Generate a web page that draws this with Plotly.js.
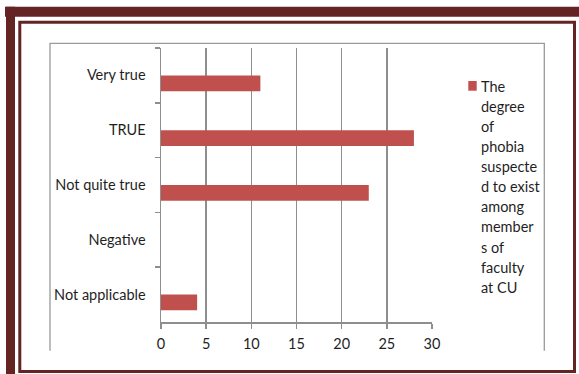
<!DOCTYPE html>
<html>
<head>
<meta charset="utf-8">
<script src="https://cdn.plot.ly/plotly-3.0.1.min.js"></script>
<style>
  html, body { margin: 0; padding: 0; background: #ffffff; }
  #chart { width: 579px; height: 374px; }
</style>
</head>
<body>
<div id="chart"></div>
<script>
// Responses, listed top to bottom as they appear on the axis
const categories = ["Very true", "TRUE", "Not quite true", "Negative", "Not applicable"];
const counts = [11, 28, 23, 0, 4];
const xTicks = [0, 5, 10, 15, 20, 25, 30];

const seriesName = "The degree of phobia suspected to exist among members of faculty at CU";
// the series name as it wraps in the narrow key box
const keyLines = ["The", "degree", "of", "phobia", "suspecte", "d to exist",
                  "among", "member", "s of", "faculty", "at CU"];

const W = 579, H = 374;
const M = { l: 161, r: 147, t: 48, b: 52 };
const plotW = W - M.l - M.r, plotH = H - M.t - M.b;
// pixel position on the page -> paper fraction
const px = x => (x - M.l) / plotW;
const py = y => (H - M.b - y) / plotH;

const maroon = "#632423";
const barColor = "#C0504D";
const gridGray = "#8e8e8e";
const textColor = "#1f1f1f";
const FONT = "Lato, 'Open Sans', sans-serif";

const trace = {
  type: "bar",
  orientation: "h",
  name: seriesName,
  x: counts,
  y: categories,
  width: 0.287,
  offset: 0,
  marker: { color: barColor, line: { width: 0 } },
  hoverinfo: "x+y"
};

const shapes = [
  // heavy page border, top and left
  { type: "rect", xref: "paper", yref: "paper", layer: "above",
    x0: px(5), x1: px(W + 2), y0: py(16.7), y1: py(6.7),
    fillcolor: maroon, line: { width: 0 } },
  { type: "rect", xref: "paper", yref: "paper", layer: "above",
    x0: px(6), x1: px(15), y0: py(H + 2), y1: py(6.7),
    fillcolor: maroon, line: { width: 0 } },
  // thin inner border
  { type: "rect", xref: "paper", yref: "paper", layer: "above",
    x0: px(19.8), x1: px(574.5), y0: py(371.5), y1: py(22.3),
    line: { color: maroon, width: 3 }, fillcolor: "rgba(0,0,0,0)" },
  // chart area outline (open at the bottom)
  { type: "path", xref: "paper", yref: "paper", layer: "above",
    path: `M${px(50)},${py(350.7)} L${px(50)},${py(43.3)} L${px(544.3)},${py(43.3)} L${px(544.3)},${py(350.7)}`,
    line: { color: "#9a9a9a", width: 1.3 } },
  // key swatch
  { type: "rect", xref: "paper", yref: "paper", layer: "above",
    x0: px(468.3), x1: px(476.7), y0: py(90.7), y1: py(81),
    fillcolor: barColor, line: { width: 0 } }
];

const annotations = keyLines.map((t, i) => ({
  text: t,
  xref: "paper", yref: "paper",
  x: px(479), y: py(86 + i * 20.13),
  xanchor: "left", yanchor: "middle",
  showarrow: false,
  font: { family: FONT, size: 14.5, color: textColor }
}));

const layout = {
  width: W, height: H,
  margin: M,
  paper_bgcolor: "#ffffff",
  plot_bgcolor: "#ffffff",
  showlegend: false,
  font: { family: FONT, size: 14.5, color: textColor },
  xaxis: {
    range: [0, 30],
    tickvals: xTicks,
    ticktext: xTicks.map(String),
    showgrid: true, gridcolor: gridGray, gridwidth: 1.5,
    zeroline: false,
    showline: true, linecolor: gridGray, linewidth: 1.5,
    ticks: "outside", ticklen: 5, tickcolor: gridGray, tickwidth: 1.5,
    ticklabelstandoff: 3,
    fixedrange: true
  },
  yaxis: {
    type: "category",
    categoryorder: "array",
    categoryarray: categories,
    range: [4.5, -0.5],
    showgrid: false, zeroline: false,
    showline: true, linecolor: gridGray, linewidth: 1.5,
    ticks: "outside", tickson: "boundaries", ticklen: 5,
    tickcolor: gridGray, tickwidth: 1.5,
    ticklabelstandoff: 11,
    fixedrange: true
  },
  shapes: shapes,
  annotations: annotations
};

Plotly.newPlot("chart", [trace], layout, { displayModeBar: false, staticPlot: true });
</script>
</body>
</html>
